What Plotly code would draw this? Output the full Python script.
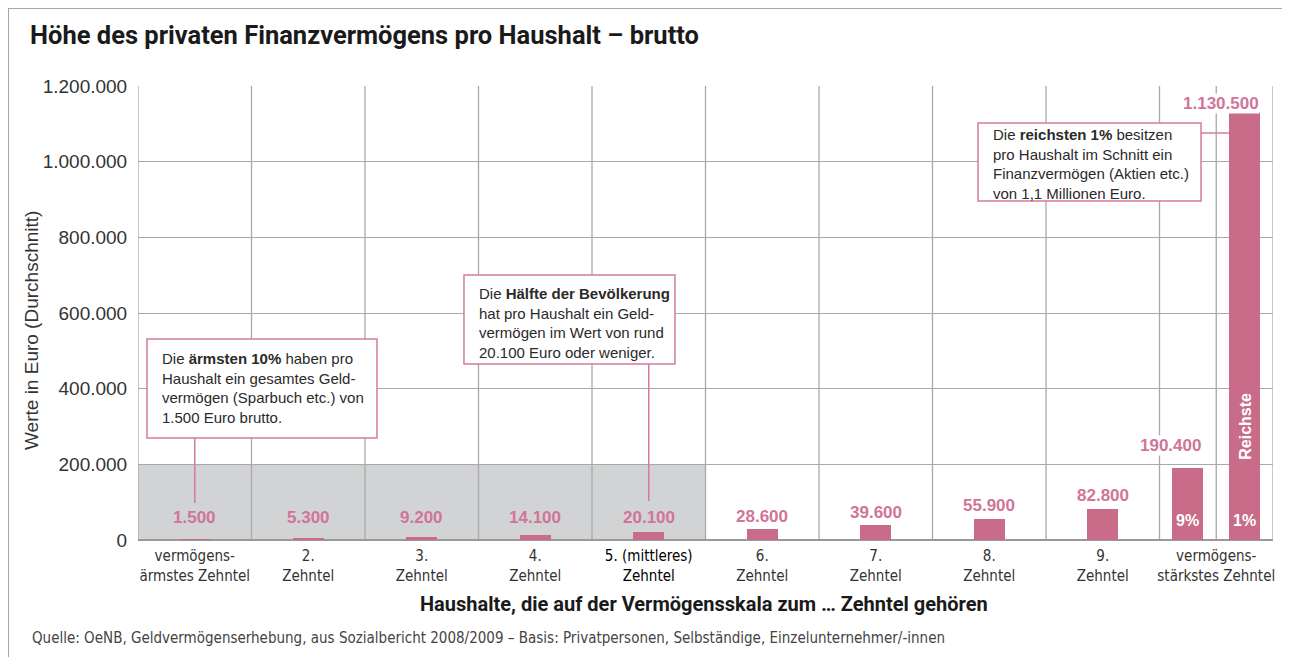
import plotly.graph_objects as go

# ---------------- data ----------------
decile_labels = [
    "vermögens-<br>ärmstes Zehntel", "2.<br>Zehntel", "3.<br>Zehntel", "4.<br>Zehntel",
    "<span style='color:#000'>5. (mittleres)<br>Zehntel</span>",
    "6.<br>Zehntel", "7.<br>Zehntel", "8.<br>Zehntel", "9.<br>Zehntel",
    "vermögens-<br>stärkstes Zehntel",
]
decile_values = [1500, 5300, 9200, 14100, 20100, 28600, 39600, 55900, 82800]
top_split_labels = ["9%", "1%"]
top_split_values = [190400, 1130500]
y_ticks = [0, 200000, 400000, 600000, 800000, 1000000, 1200000]

# --------------- styling ---------------
PINK = "#c96c8a"
PINK_TXT = "#d07598"
BOX = "#d47c9c"
GRID = "#a9a9a9"
COND = "DejaVu Sans Condensed, sans-serif"
ROB = "Roboto, Arial, sans-serif"
REG = "Liberation Sans, Arial, sans-serif"

# page body has an 8px offset, so the figure is 8px smaller than the window
W, H = 1282, 649

n = len(decile_labels)
xs_dec = list(range(len(decile_values)))
top_idx = n - 1
xs_top = [top_idx - 0.25, top_idx + 0.25]
BW = 0.273

fig = go.Figure()
fig.add_trace(go.Bar(x=xs_dec + xs_top, y=decile_values + top_split_values,
                     width=BW, marker=dict(color=PINK, line=dict(width=0)),
                     hoverinfo="skip", showlegend=False))

shapes = []
shapes.append(dict(type="rect", xref="x", yref="y", x0=-0.5, x1=4.5, y0=0, y1=200000,
                   fillcolor="#d2d3d5", line=dict(width=0), layer="below"))
for b in [i - 0.5 for i in range(n + 1)] + [top_idx]:
    shapes.append(dict(type="line", xref="x", yref="y", x0=b, x1=b, y0=0, y1=y_ticks[-1],
                       line=dict(color=GRID, width=1.3), layer="below"))
# outer frame (left + top)
shapes.append(dict(type="line", xref="paper", yref="paper", x0=-0.1145, x1=-0.1145,
                   y0=1.1718, y1=-0.3, line=dict(color="#a8a8a8", width=2)))
shapes.append(dict(type="line", xref="paper", yref="paper", x0=-0.1145, x1=1.03,
                   y0=1.1718, y1=1.1718, line=dict(color="#a8a8a8", width=2)))

annotations = []
for x, v in zip(xs_dec, decile_values):
    annotations.append(dict(x=x, y=max(v, 26000), xref="x", yref="y", yshift=13,
                            text=f"{v:,}".replace(",", "."), showarrow=False,
                            font=dict(family=REG, size=17, color=PINK_TXT, weight="bold")))
for x, v, ysh, xsh in zip(xs_top, top_split_values, [22, 9], [-17, -24]):
    annotations.append(dict(x=x, y=v, xref="x", yref="y", yshift=ysh, xshift=xsh,
                            text=f"{v:,}".replace(",", "."), showarrow=False,
                            bgcolor="white", borderpad=0,
                            font=dict(family=REG, size=17, color=PINK_TXT, weight="bold")))
for x, t in zip(xs_top, top_split_labels):
    annotations.append(dict(x=x, y=0, xref="x", yref="y", yanchor="bottom", yshift=9,
                            text=t, showarrow=False,
                            font=dict(family=REG, size=16, color="white", weight="bold")))
annotations.append(dict(x=xs_top[1], y=301000, xref="x", yref="y", text="Reichste",
                        textangle=-90, showarrow=False,
                        font=dict(family=REG, size=16, color="white", weight="bold")))

callouts = [
    dict(box=(-0.4207, 1.6057, 269600, 531300), tx=-0.3062, ty=507500,
         text="Die <b>ärmsten 10%</b> haben pro<br>Haushalt ein gesamtes Geld-<br>"
              "vermögen (Sparbuch etc.) von<br>1.500 Euro brutto.",
         line=(0.0, 0.0, 269600, 97800)),
    dict(box=(2.372, 4.231, 465200, 700400), tx=2.487, ty=679300,
         text="Die <b>Hälfte der Bevölkerung</b><br>hat pro Haushalt ein Geld-<br>"
              "vermögen im Wert von rund<br>20.100 Euro oder weniger.",
         line=(4.0, 4.0, 465200, 103100)),
    dict(box=(6.901, 8.866, 896000, 1102200), tx=7.015, ty=1100000,
         text="Die <b>reichsten 1%</b> besitzen<br>pro Haushalt im Schnitt ein<br>"
              "Finanzvermögen (Aktien etc.)<br>von 1,1 Millionen Euro.",
         line=(8.866, 9.112, 1075800, 1075800)),
]
for c in callouts:
    x0, x1, y0, y1 = c["box"]
    shapes.append(dict(type="rect", xref="x", yref="y", x0=x0, x1=x1, y0=y0, y1=y1,
                       fillcolor="white", line=dict(color=BOX, width=1.5)))
    lx0, lx1, ly0, ly1 = c["line"]
    shapes.append(dict(type="line", xref="x", yref="y", x0=lx0, x1=lx1, y0=ly0, y1=ly1,
                       line=dict(color=BOX, width=1.5)))
    annotations.append(dict(x=c["tx"], y=c["ty"], xref="x", yref="y", xanchor="left",
                            yanchor="top", align="left", text=c["text"], showarrow=False,
                            font=dict(family=REG, size=15, color="#2a2a2a")))

annotations.append(dict(x=-0.0934, y=0.4626, xref="paper", yref="paper", textangle=-90,
                        xanchor="center", yanchor="middle",
                        text="Werte in Euro (Durchschnitt)", showarrow=False,
                        font=dict(family=REG, size=19, color="#333")))
annotations.append(dict(x=0.4987, y=-0.141, xref="paper", yref="paper",
                        xanchor="center", yanchor="middle",
                        text="<b>Haushalte, die auf der Vermögensskala zum … Zehntel gehören</b>",
                        showarrow=False, font=dict(family=ROB, size=20, color="#1a1a1a")))
annotations.append(dict(x=-0.0952, y=-0.2159, xref="paper", yref="paper",
                        xanchor="left", yanchor="middle",
                        text="Quelle: OeNB, Geldvermögenserhebung, aus Sozialbericht 2008/2009 – "
                             "Basis: Privatpersonen, Selbständige, Einzelunternehmer/-innen",
                        showarrow=False, font=dict(family=COND, size=15, color="#444")))

fig.update_layout(
    width=W, height=H,
    margin=dict(l=130, r=17, t=78, b=117),
    paper_bgcolor="white", plot_bgcolor="white",
    separators=",.",
    title=dict(text="<b>Höhe des privaten Finanzvermögens pro Haushalt – brutto</b>",
               x=22 / W, y=1 - 27 / H, xanchor="left", yanchor="middle",
               font=dict(family=ROB, size=25.5, color="#1a1a1a")),
    xaxis=dict(range=[-0.5, n - 0.5], tickvals=list(range(n)), ticktext=decile_labels,
               showgrid=False, zeroline=False, showline=False,
               ticks="outside", ticklen=2, tickcolor="rgba(0,0,0,0)",
               tickfont=dict(family=COND, size=15, color="#333"), fixedrange=True),
    yaxis=dict(range=[0, y_ticks[-1]], tickvals=y_ticks, tickformat=",d",
               showgrid=True, gridcolor=GRID, gridwidth=1.3,
               zeroline=True, zerolinecolor="#999", zerolinewidth=2, showline=False,
               ticks="outside", ticklen=6, tickcolor="rgba(0,0,0,0)",
               tickfont=dict(family=REG, size=19, color="#333"), fixedrange=True),
    shapes=shapes, annotations=annotations, bargap=0,
)

fig.write_html("out.html")
